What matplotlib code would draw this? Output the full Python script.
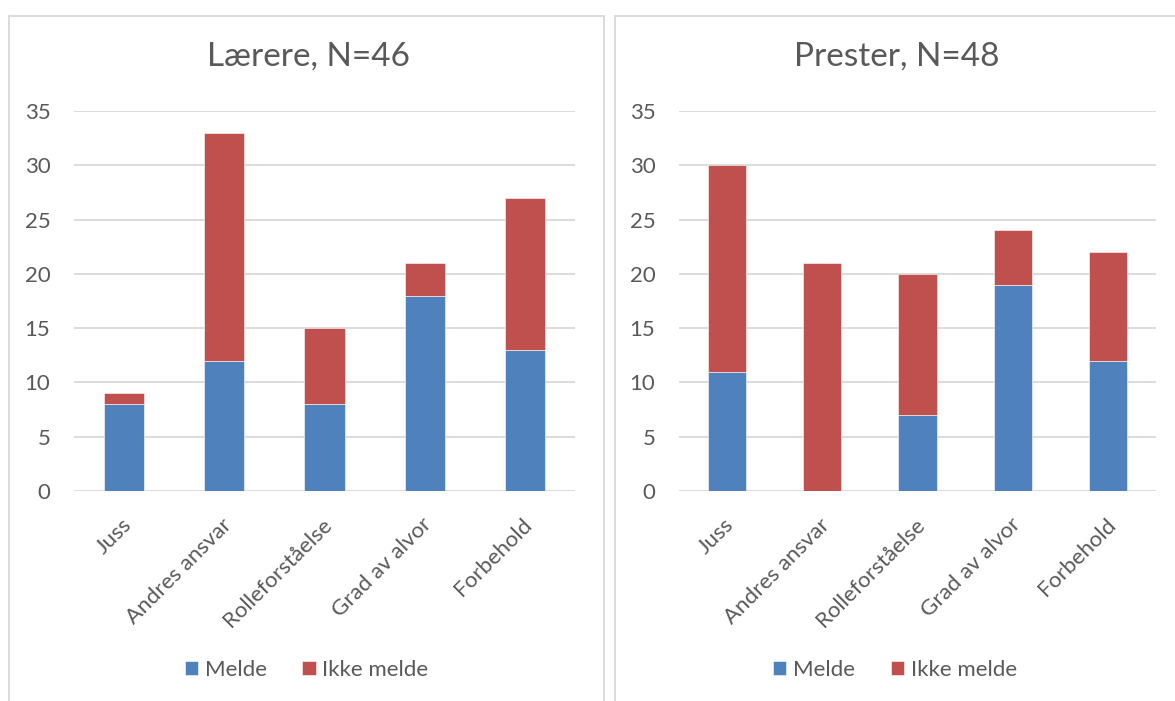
import numpy as np
import matplotlib.pyplot as plt
from matplotlib.patches import Rectangle
from matplotlib.transforms import ScaledTranslation

plt.rcParams['font.family'] = ['Lato', 'DejaVu Sans']

categories = ["Juss", "Andres ansvar", "Rolleforståelse", "Grad av alvor", "Forbehold"]
series_names = ["Melde", "Ikke melde"]

laerere_melde = [8, 12, 8, 18, 13]
laerere_ikke = [1, 21, 7, 3, 14]
prester_melde = [11, 0, 7, 19, 12]
prester_ikke = [19, 21, 13, 5, 10]

titles = ["Lærere, N=46", "Prester, N=48"]
yticks = [0, 5, 10, 15, 20, 25, 30, 35]

BLUE = "#4F81BD"
RED = "#C0504D"
TEXT = "#595959"
GRID = "#D9D9D9"

W, H = 1175, 701
fig = plt.figure(figsize=(W / 100, H / 100), dpi=100)

def fx(px):
    return px / W

def fy(py):
    return 1 - py / H

# chart frames (px): left, top, right
frames = [(9, 16, 604), (615, 16, 1185)]
# plot areas (px): left, right, top(35), bottom(0)
areas = [(74, 575, 111, 491), (679, 1156, 111, 491)]
data = [(laerere_melde, laerere_ikke), (prester_melde, prester_ikke)]

for (l, t, r), (al, ar, at, ab), title, (melde, ikke) in zip(frames, areas, titles, data):
    fig.patches.append(Rectangle((fx(l), fy(H + 20)), fx(r - l), fy(t) - fy(H + 20),
                                 transform=fig.transFigure, fill=False,
                                 edgecolor=GRID, linewidth=1.3))
    ax = fig.add_axes([fx(al), fy(ab), fx(ar - al), fy(at) - fy(ab)])
    x = np.arange(len(categories))
    b1 = ax.bar(x, melde, width=0.4, color=BLUE, edgecolor="white", linewidth=0.4,
                label=series_names[0], zorder=3)
    b2 = ax.bar(x, ikke, width=0.4, bottom=melde, color=RED, edgecolor="white",
                linewidth=0.4, label=series_names[1], zorder=3)
    ax.set_xlim(-0.5, len(categories) - 0.5)
    ax.set_ylim(0, 35)
    ax.set_yticks(yticks)
    ax.yaxis.grid(True, color=GRID, linewidth=1.3, zorder=0)
    ax.set_axisbelow(True)
    for s in ax.spines.values():
        s.set_visible(False)
    ax.tick_params(axis="both", length=0, colors=TEXT, labelsize=16)
    ax.tick_params(axis="y", pad=17)
    ax.set_xticks(x)
    ax.set_xticklabels(categories, rotation=45, ha="right", va="center",
                       rotation_mode="anchor")
    ax.tick_params(axis="x", pad=22)
    shift = ScaledTranslation(4 / 100, 0, fig.dpi_scale_trans)
    for lab in ax.get_xticklabels():
        lab.set_transform(lab.get_transform() + shift)
    cx = (l + min(r, W)) / 2
    fig.text(fx(cx + 2), fy(57), title, ha="center", va="center",
             fontsize=24, color=TEXT)
    fig.legend(handles=[b1, b2], loc="center", bbox_to_anchor=(fx(cx), fy(670)),
               ncol=2, frameon=False, fontsize=16, labelcolor=TEXT,
               handlelength=0.6, handleheight=0.6, handletextpad=0.3, columnspacing=1.6)

fig.savefig("out.png", dpi=100)
